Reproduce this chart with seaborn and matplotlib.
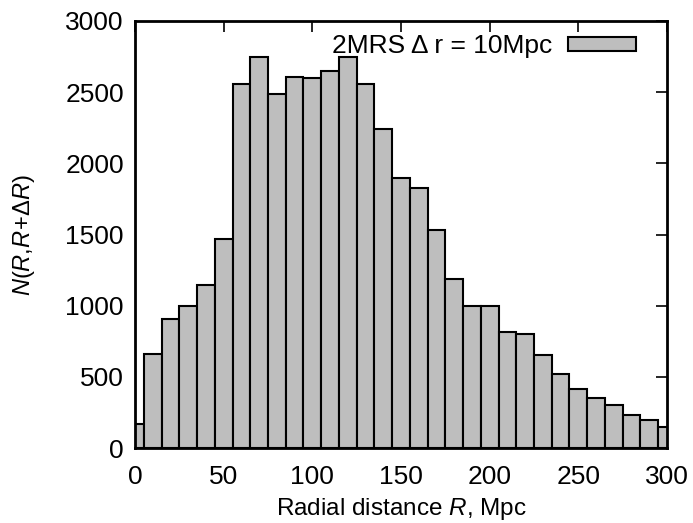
import numpy as np
import pandas as pd
import matplotlib
matplotlib.use("Agg")
import matplotlib.pyplot as plt
import seaborn as sns

# Data: bin centres (Mpc) and counts per 10 Mpc bin
centers = [0, 10, 20, 30, 40, 50, 60, 70, 80, 90, 100, 110, 120, 130, 140, 150,
           160, 170, 180, 190, 200, 210, 220, 230, 240, 250, 260, 270, 280, 290, 300]
counts = [170, 660, 905, 995, 1145, 1470, 2560, 2750, 2490, 2610, 2600, 2650, 2750, 2560, 2240, 1900,
          1825, 1530, 1185, 995, 995, 815, 800, 650, 520, 415, 350, 300, 235, 195, 148]
x_ticks = [0, 50, 100, 150, 200, 250, 300]
y_ticks = [0, 500, 1000, 1500, 2000, 2500, 3000]
legend_label = "2MRS \u0394 r = 10Mpc"

sns.set_theme(style="white")
plt.rcParams['font.family'] = ['Liberation Sans', 'DejaVu Sans']
plt.rcParams['mathtext.fontset'] = 'custom'
plt.rcParams['mathtext.rm'] = 'Liberation Sans'
plt.rcParams['mathtext.it'] = 'Liberation Sans:italic'
plt.rcParams['mathtext.sf'] = 'Liberation Sans'
plt.rcParams['text.color'] = 'black'
plt.rcParams['axes.labelcolor'] = 'black'

df = pd.DataFrame({"R": centers, "N": counts})

fig = plt.figure(figsize=(6.93, 5.23), dpi=100)
ax = fig.add_axes([135/693, 1 - 448/523, (667-135)/693, (448-21)/523])

sns.histplot(data=df, x="R", weights="N", binwidth=10, binrange=(-5, 305),
             color="#bebebe", alpha=1.0, edgecolor="black", linewidth=1.5,
             ax=ax, label=legend_label)

ax.set_xlim(0, 300)
ax.set_ylim(0, 3000)
ax.set_xticks(x_ticks)
ax.set_yticks(y_ticks)
ax.tick_params(axis='both', which='major', direction='in', length=8, width=1.2,
               top=True, right=True, labelsize=19, colors='black', pad=8)
ax.tick_params(axis='x', pad=12)
for s in ax.spines.values():
    s.set_linewidth(2)
    s.set_color('black')
ax.set_xlabel(r"Radial distance $R$, Mpc", fontsize=17.5, labelpad=5)
ax.set_ylabel(r"$N(R{,}R\!+\!\Delta R)$", fontsize=17, labelpad=20)

leg = ax.legend(loc='upper right', frameon=False, markerfirst=False, fontsize=19,
                handlelength=2.6, handleheight=0.45, borderaxespad=0.1,
                bbox_to_anchor=(0.967, 1.0), handletextpad=0.6)

fig.savefig("out.png", dpi=100)
